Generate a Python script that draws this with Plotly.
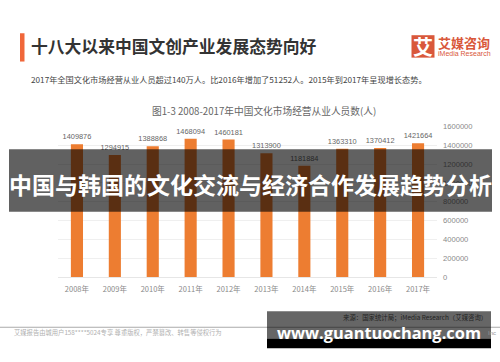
import plotly.graph_objects as go

years = ["2008年","2009年","2010年","2011年","2012年","2013年","2014年","2015年","2016年","2017年"]
employees = [1409876,1294915,1388868,1468094,1460181,1313900,1181884,1363310,1370412,1421664]
y_ticks = [0,200000,400000,600000,800000,1000000,1200000,1400000,1600000]

W, H = 500, 362
CJK = "Noto Sans CJK SC"

def px(v): return v / W
def py(v): return 1 - v / H

fig = go.Figure(go.Bar(
    x=years, y=employees, width=0.32, marker_color="#ED7D31", marker_line_width=0,
    text=[str(v) for v in employees], textposition="outside", cliponaxis=False,
    textfont=dict(family="Liberation Sans", size=7.4, color="#666666"),
    constraintext="none",
))
fig.update_layout(
    width=W, height=H, margin=dict(l=0, r=0, t=0, b=0), autosize=False,
    paper_bgcolor="white", plot_bgcolor="white", showlegend=False,
    font=dict(family=CJK),
    xaxis=dict(domain=[px(58), px(437)], tickfont=dict(family=CJK, size=7.5, color="#8a8a8a"),
               showline=True, linecolor="#e6e6e6", linewidth=1, ticks="", fixedrange=True,
               ticklabelstandoff=5),
    yaxis=dict(domain=[py(280), py(125.5)], side="right", range=[0,1600000],
               tickvals=y_ticks, ticktext=[str(v) for v in y_ticks],
               tickfont=dict(family="Liberation Sans", size=7.6, color="#8a8a8a"),
               gridcolor="#efefef", gridwidth=1, zeroline=False, ticks="", fixedrange=True,
               ticklabelstandoff=5),
)

def rect(x0,y0,x1,y1,color,**kw):
    fig.add_shape(type="rect", xref="paper", yref="paper", x0=px(x0), x1=px(x1), y0=py(y0), y1=py(y1),
                  fillcolor=color, line_width=0, layer="above", **kw)
def note(x,y,text,size,color,anchor="left",family=CJK):
    fig.add_annotation(xref="paper", yref="paper", x=px(x), y=py(y), text=text, showarrow=False,
                       xanchor=anchor, yanchor="middle", font=dict(family=family, size=size, color=color),
                       borderpad=0, borderwidth=0)

# header
rect(20,30,24.5,59,"#F0673A")
note(31,43.5,"<b>十八大以来中国文创产业发展态势向好</b>",16.8,"#333333")
note(31,76.5,"2017年全国文化市场经营从业人员超过140万人。比2016年增加了51252人。2015年到2017年呈现增长态势。",8.2,"#444444")
note(264,109.5,"图1-3 2008-2017年中国文化市场经营从业人员数(人)",9.7,"#666666","center")
# logo
fig.add_shape(type="rect", xref="paper", yref="paper", x0=px(411.5), x1=px(434.5), y0=py(32), y1=py(55),
              fillcolor="#D9583B", line_width=0, layer="above")
note(423,43.5,"<b>艾</b>",20,"white","center")
note(438,39.5,"<b>艾媒咨询</b>",13,"#D9583B")
note(438,51,"iMedia Research",7,"#D9583B",family="Liberation Sans")

# footer
fig.add_shape(type="line", xref="paper", yref="paper", x0=0, x1=1, y0=py(331.5), y1=py(331.5),
              line=dict(color="#aaaaaa", width=1), layer="above")
note(14,337,"艾媒报告由城用户158****5024专享 尊重版权，严禁篡改、转售等侵权行为",6.3,"#b0b0b0")
note(496,337,"Inc",6,"#999999","right",family="Liberation Sans")

# overlays
rect(9,149,492,213,"rgba(0,0,0,0.62)")
note(250.5,185,"<b>中国与韩国的文化交流与经济合作发展趋势分析</b>",23,"white","center")
rect(267,315,491,343,"rgba(0,0,0,0.6)")
rect(267,343,491,353,"#000000")
note(487,321,"来源：国家统计局；iMedia Research（艾媒咨询）",6.4,"#222222","right")
note(277,337,"<b>www.guantuochang.com</b>",16.4,"white",family="Open Sans")

fig.write_html("out.html", config={"displayModeBar": False},
               post_script="document.body.style.margin='0';document.documentElement.style.overflow='hidden';")
